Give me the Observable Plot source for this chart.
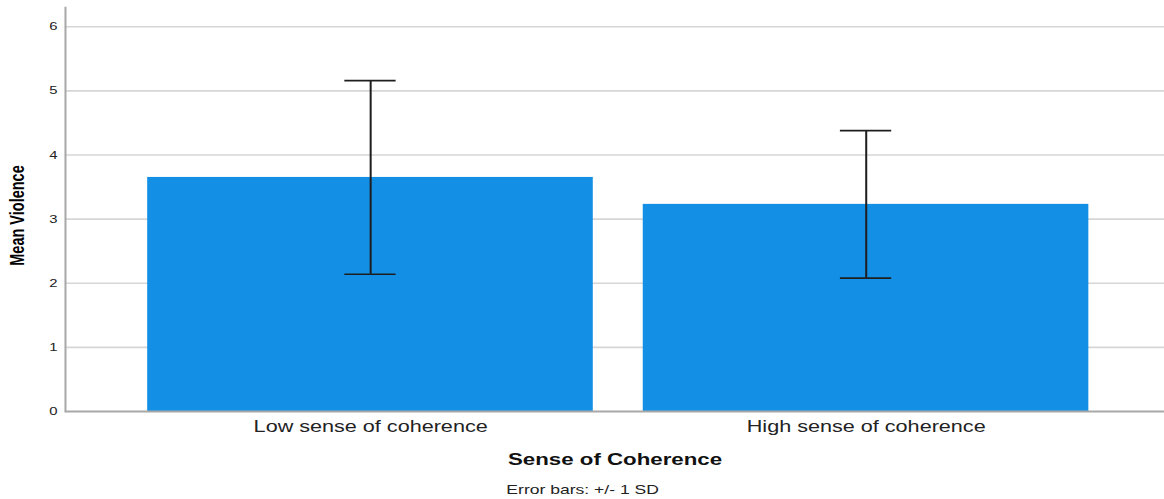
<!DOCTYPE html>
<html>
<head>
<meta charset="utf-8">
<script src="https://cdn.jsdelivr.net/npm/d3@7"></script>
<script src="https://cdn.jsdelivr.net/npm/@observablehq/plot@0.6"></script>
<style>
  html, body { margin: 0; padding: 0; background: #fff; overflow: hidden; }
  #chart svg { display: block; transform-origin: 0 0; overflow: visible; }
</style>
</head>
<body>
<div id="chart"></div>
<script>
// ---- data ----
const categories = ["Low sense of coherence", "High sense of coherence"];
const means = [3.65, 3.23];
const sds = [1.51, 1.15];
const yTicks = [0, 1, 2, 3, 4, 5, 6];
const yLabel = "Mean Violence";
const xLabel = "Sense of Coherence";
const note = "Error bars: +/- 1 SD";

const rows = categories.map((c, i) => ({
  cat: c, mean: means[i], lo: means[i] - sds[i], hi: means[i] + sds[i]
}));

// The reference image is horizontally stretched; draw narrower then scale.
const FULL_W = 1164;
const S = 1.3503;
const W = Math.round(FULL_W / S);
const font = "'Liberation Sans', Arial, sans-serif";

const plot = Plot.plot({
  width: W,
  height: 499,
  marginLeft: 48,
  marginRight: 0,
  marginTop: 7,
  marginBottom: 88,
  style: { fontFamily: font, background: "#fff", color: "#222" },
  x: { domain: categories, paddingInner: 0.101, paddingOuter: 0.157, align: 0.52, label: null },
  y: { domain: [0, 6.3], label: null },
  marks: [
    Plot.ruleY(yTicks.filter(d => d > 0), { stroke: "#d6d6d6", strokeWidth: 1.6 }),
    Plot.barY(rows, { x: "cat", y: "mean", fill: "#1390e6" }),
    Plot.ruleX(rows, { x: "cat", y1: "lo", y2: "hi", stroke: "#1e1e1e", strokeWidth: 1.5 }),
    Plot.tickY(rows, { x: "cat", y: "hi", stroke: "#1e1e1e", strokeWidth: 1.7, insetLeft: 146, insetRight: 146 }),
    Plot.tickY(rows, { x: "cat", y: "lo", stroke: "#1e1e1e", strokeWidth: 1.7, insetLeft: 146, insetRight: 146 }),
    Plot.ruleY([0], { stroke: "#a8a8a8", strokeWidth: 2 }),
    Plot.frame({ anchor: "left", stroke: "#a8a8a8", strokeWidth: 1.5 }),
    Plot.axisY({ ticks: yTicks, tickSize: 0, tickPadding: 6, fontSize: 11, label: null, tickFormat: d => String(d) }),
    Plot.axisX({ tickSize: 0, tickPadding: 9, fontSize: 16, label: null, fill: "#222" }),
    Plot.text([yLabel], { frameAnchor: "left", textAnchor: "middle", rotate: -90, dx: -35, dy: 6, fontSize: 14.5, fontWeight: "bold", fill: "#000" }),
    Plot.text([xLabel], { frameAnchor: "bottom", dy: 53, fontSize: 16.5, fontWeight: "bold", fill: "#111" }),
    Plot.text([note], { frameAnchor: "bottom", dx: -24, dy: 82, fontSize: 13, fill: "#222" })
  ]
});
plot.style.transform = `scaleX(${S})`;
document.getElementById("chart").appendChild(plot);
</script>
</body>
</html>
